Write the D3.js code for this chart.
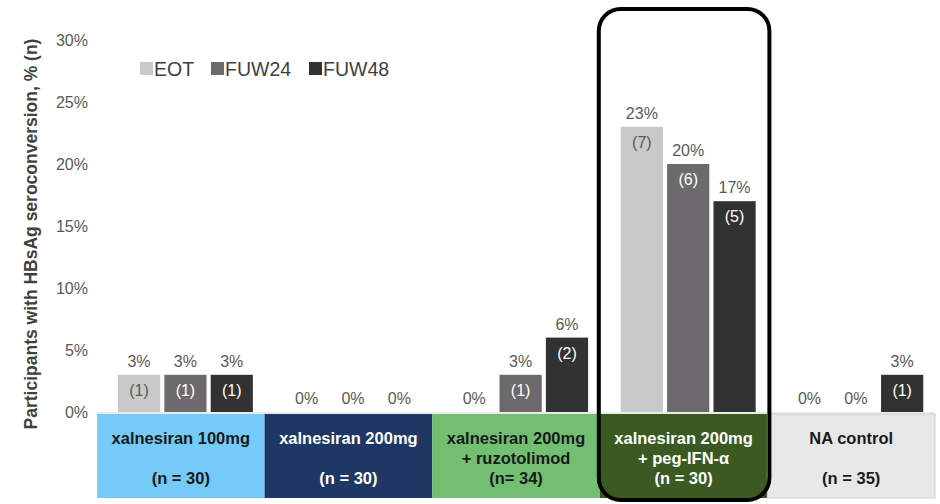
<!DOCTYPE html>
<html>
<head>
<meta charset="utf-8">
<script src="https://cdn.jsdelivr.net/npm/d3@7"></script>
<style>
  html, body { margin: 0; padding: 0; background: #ffffff; }
  svg { display: block; font-family: "Liberation Sans", Arial, Helvetica, sans-serif; }
</style>
</head>
<body>
<svg id="chart" width="940" height="504"></svg>
<script>
// Treatment arms (box labels, one entry per line)
const groups = ["g100", "g200", "gRuz", "gIFN", "gNA"];
const groupLines = [
  ["xalnesiran 100mg", "", "(n = 30)"],
  ["xalnesiran 200mg", "", "(n = 30)"],
  ["xalnesiran 200mg", "+ ruzotolimod", "(n= 34)"],
  ["xalnesiran 200mg", "+ peg-IFN-\u03b1", "(n = 30)"],
  ["NA control", "", "(n = 35)"]
];
const groupFill = ["#74CBF7", "#1E3765", "#72BF72", "#3A5A22", "#E7E7E7"];
const groupText = ["#1a1a1a", "#ffffff", "#1a1a1a", "#ffffff", "#1a1a1a"];

// Time points
const series = ["EOT", "FUW24", "FUW48"];
const seriesColor = ["#C9C9C9", "#6D6A6D", "#323232"];

// HBsAg seroconversion, % of participants
const eotPct   = [3, 0, 0, 23, 0];
const fuw24Pct = [3, 0, 3, 20, 0];
const fuw48Pct = [3, 0, 6, 17, 3];
// Number of participants
const eotN   = [1, 0, 0, 7, 0];
const fuw24N = [1, 0, 1, 6, 0];
const fuw48N = [1, 0, 2, 5, 1];

const yTicks = [0, 5, 10, 15, 20, 25, 30];

const pctBySeries = [eotPct, fuw24Pct, fuw48Pct];
const nBySeries = [eotN, fuw24N, fuw48N];

const svg = d3.select("#chart");

const plotLeft = 97, plotRight = 935;
const y = d3.scaleLinear().domain([0, 30]).range([412, 40]);
const x0 = d3.scaleBand().domain(groups).range([plotLeft, plotRight]).padding(0);
const bw = x0.bandwidth();
const x1 = d3.scaleBand().domain(series)
  .range([bw * 0.125, bw * 0.93]).paddingInner(0.09).paddingOuter(0);

// Y axis: tick labels only
const yAxis = d3.axisLeft(y).tickValues(yTicks).tickFormat(d => d + "%").tickSize(0).tickPadding(0);
const yg = svg.append("g").attr("transform", "translate(88,0)").call(yAxis);
yg.select(".domain").remove();
yg.selectAll("text").attr("font-size", 16).attr("fill", "#595959")
  .attr("font-family", "Liberation Sans, Arial, sans-serif");

// Y axis title
svg.append("text")
  .attr("transform", "translate(37,234) rotate(-90)")
  .attr("text-anchor", "middle")
  .attr("font-size", 17.5).attr("font-weight", "bold").attr("fill", "#404040")
  .text("Participants with HBsAg seroconversion, % (n)");

// Legend
const legend = svg.append("g");
const legendX = [140, 211, 309];
series.forEach((s, i) => {
  legend.append("rect").attr("x", legendX[i]).attr("y", 62).attr("width", 13).attr("height", 13)
    .attr("fill", seriesColor[i]);
  legend.append("text").attr("x", legendX[i] + 14).attr("y", 76)
    .attr("font-size", 19.5).attr("fill", "#404040").text(s);
});

// Bars
const rows = [];
groups.forEach((g, gi) => {
  series.forEach((s, si) => {
    rows.push({ g, s, si, gi, pct: pctBySeries[si][gi], n: nBySeries[si][gi] });
  });
});

const barG = svg.append("g");
barG.selectAll("rect").data(rows).join("rect")
  .attr("x", d => x0(d.g) + x1(d.s))
  .attr("y", d => y(d.pct))
  .attr("width", x1.bandwidth())
  .attr("height", d => y(0) - y(d.pct))
  .attr("fill", d => seriesColor[d.si]);

// Percent labels above bars
barG.selectAll("text.pct").data(rows).join("text").attr("class", "pct")
  .attr("x", d => x0(d.g) + x1(d.s) + x1.bandwidth() / 2)
  .attr("y", d => y(d.pct) - 8)
  .attr("text-anchor", "middle").attr("font-size", 16).attr("fill", "#595959")
  .text(d => d.pct + "%");

// Participant counts inside bars
barG.selectAll("text.cnt").data(rows.filter(d => d.n > 0)).join("text").attr("class", "cnt")
  .attr("x", d => x0(d.g) + x1(d.s) + x1.bandwidth() / 2)
  .attr("y", d => y(d.pct) + 21)
  .attr("text-anchor", "middle").attr("font-size", 16)
  .attr("fill", d => d.si === 0 ? "#595959" : "#ffffff")
  .text(d => "(" + d.n + ")");

// Baseline
svg.append("line").attr("x1", plotLeft).attr("x2", plotRight)
  .attr("y1", 413).attr("y2", 413).attr("stroke", "#D6D6D6").attr("stroke-width", 1);

// Category boxes below the axis
const boxG = svg.append("g");
groups.forEach((g, gi) => {
  boxG.append("rect").attr("x", x0(g)).attr("y", 414).attr("width", bw).attr("height", 84)
    .attr("fill", groupFill[gi])
    .attr("stroke", gi === 4 ? "#D0D0D0" : "none").attr("stroke-width", 1);
  groupLines[gi].forEach((line, li) => {
    if (!line) return;
    boxG.append("text")
      .attr("x", x0(g) + bw / 2).attr("y", 443.5 + li * 20)
      .attr("text-anchor", "middle").attr("font-size", 16.5).attr("font-weight", "bold")
      .attr("fill", groupText[gi]).text(line);
  });
});

// Highlight around the peg-IFN-α arm
svg.append("rect")
  .attr("x", x0("gIFN") - 1).attr("y", 9)
  .attr("width", bw + 3).attr("height", 491)
  .attr("rx", 22).attr("ry", 22)
  .attr("fill", "none").attr("stroke", "#000000").attr("stroke-width", 4);
</script>
</body>
</html>
